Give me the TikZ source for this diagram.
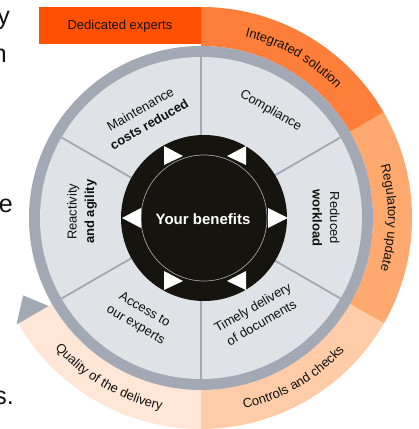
\documentclass[tikz,border=0pt]{standalone}
\usepackage{fontspec}
\setmainfont{Liberation Sans}
\usetikzlibrary{decorations.text}
\definecolor{odeep}{HTML}{FF5000}
\definecolor{omid}{HTML}{FF7E3A}
\definecolor{olight}{HTML}{FFA96E}
\definecolor{opale}{HTML}{FFCCA7}
\definecolor{opaler}{HTML}{FFE6D6}
\definecolor{ringgray}{HTML}{A2A8B4}
\definecolor{segfill}{HTML}{DFE2E6}
\definecolor{coreblack}{HTML}{16140F}
\definecolor{txt}{HTML}{111111}
\newcommand\lblfont{\fontsize{13}{17.5}\selectfont}
\tikzset{
  lbl/.style={font=\lblfont, align=center, inner sep=0pt, text=txt},
  frag/.style={font=\fontsize{25}{30}\selectfont, inner sep=0pt, text=txt},
  divider/.style={draw=ringgray, line width=1.8pt},
  arclbl/.style={decorate, decoration={text along path, text align=center, text color=txt}}
}
\begin{document}
\begin{tikzpicture}[x=1pt,y=1pt]
\useasboundingbox (0,0) rectangle (419,429);
\coordinate (c) at (201,211);
\coordinate (b) at (204,211);

% fragments of the neighbouring paragraph
\node[frag, anchor=base east] (f1) at (10,404) {y};
\node[frag, anchor=base east] (f2) at (7,366) {n};
\node[frag, anchor=base east] (f3) at (13,216) {e};
\node[frag, anchor=base east] (f4) at (14,24) {s.};

% top rectangle
\fill[odeep] (39,385) rectangle (203,422);
\node[lbl] (dedicated) at (120,403) {Dedicated experts};

\begin{scope}[shift={(c)}]
  \fill[omid] (30:172pt) arc[start angle=30,end angle=90,radius=172pt] -- (90:211pt) arc[start angle=90,end angle=30,radius=211pt] -- cycle;
  \fill[olight] (-30:172pt) arc[start angle=-30,end angle=30,radius=172pt] -- (30:211pt) arc[start angle=30,end angle=-30,radius=211pt] -- cycle;
  \fill[opale] (-90:172pt) arc[start angle=-90,end angle=-30,radius=172pt] -- (-30:211pt) arc[start angle=-30,end angle=-90,radius=211pt] -- cycle;
  \fill[opaler] (210:172pt) arc[start angle=210,end angle=270,radius=172pt] -- (270:211pt) arc[start angle=270,end angle=210,radius=211pt] -- cycle;
  \fill[ringgray] (203.5:194pt) -- (210:176pt) -- (210:213pt) -- cycle;
  \fill[ringgray] (0,0) circle[radius=172pt];
  \fill[segfill] (0,0) circle[radius=161pt];
  \foreach \a in {30,90,...,330} \draw[divider] (\a:70pt) -- (\a:161pt);

  \path[arclbl, decoration={text={|\lblfont|Integrated solution}}] (95:187pt) arc[start angle=95,end angle=25,radius=187pt];
  \path[arclbl, decoration={text={|\lblfont|Regulatory update}}] (35:187pt) arc[start angle=35,end angle=-35,radius=187pt];
  \path[arclbl, decoration={text={|\lblfont|Controls and checks}}] (-95:195.5pt) arc[start angle=-95,end angle=-25,radius=195.5pt];
  \path[arclbl, decoration={text={|\lblfont|Quality of the delivery}}] (205:195.5pt) arc[start angle=205,end angle=275,radius=195.5pt];

  \node[lbl, rotate=30] (maint) at (119:116pt) {Maintenance\\\textbf{costs reduced}};
  \node[lbl, rotate=-30] (compl) at (57:128pt) {Compliance};
  \node[lbl, rotate=-90] (reduced) at (0:125pt) {Reduced\\\textbf{workload}};
  \node[lbl, rotate=30] (timely) at (-60:112pt) {Timely delivery\\of documents};
  \node[lbl, rotate=-30] (access) at (238.5:117pt) {Access to\\our experts};
  \node[lbl, rotate=90] (react) at (177:119pt) {Reactivity\\\textbf{and agility}};
\end{scope}

% core
\fill[coreblack] (b) circle[radius=83pt];
\draw[gray!75, line width=0.7pt] (b) circle[radius=63pt];
\fill[white] (164,283) -- (164,264) -- (183,273) -- cycle;
\fill[white] (246,283) -- (246,264) -- (227,273) -- cycle;
\fill[white] (122,211) -- (141,221) -- (141,201) -- cycle;
\fill[white] (288,211) -- (268,221) -- (268,201) -- cycle;
\fill[white] (164,158) -- (164,139) -- (183,148) -- cycle;
\fill[white] (246,158) -- (246,139) -- (227,148) -- cycle;
\node[font=\fontsize{15}{17}\selectfont\bfseries, text=white, inner sep=0pt] (benefits) at (203,210) {Your benefits};
\end{tikzpicture}
\end{document}
